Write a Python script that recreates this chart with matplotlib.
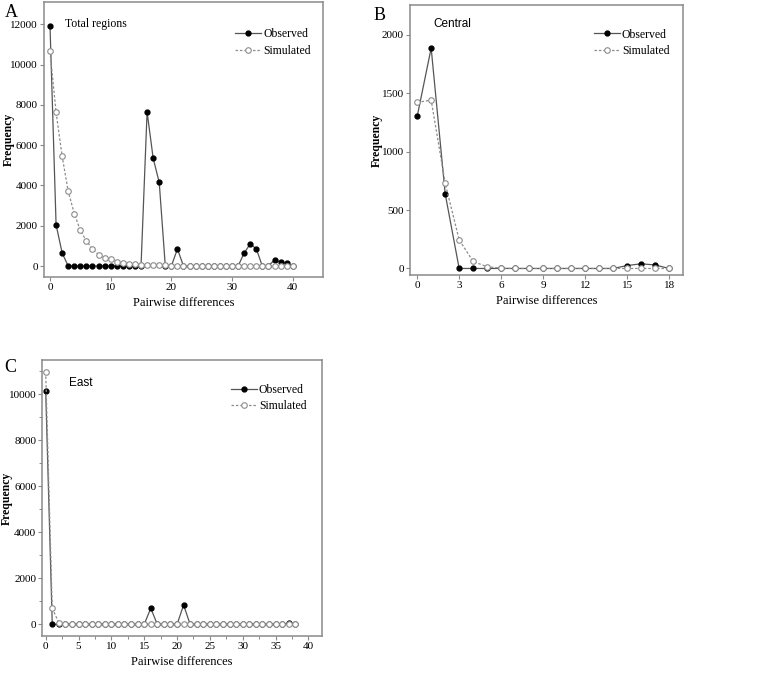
import matplotlib
matplotlib.use("Agg")
import matplotlib.pyplot as plt
from matplotlib.ticker import AutoMinorLocator

# Panel A - total regions
a_x = list(range(41))
a_obs = [11900, 2050, 650, 0, 0, 0, 0, 0, 0, 0, 0, 0, 0, 0, 0, 0,
         7650, 5350, 4150, 0, 0, 850, 0, 0, 0, 0, 0, 0, 0, 0, 0, 0,
         650, 1100, 850, 0, 0, 310, 210, 160, 0]
a_sim = [10650, 7620, 5450, 3700, 2600, 1770, 1240, 860, 570, 400, 340, 220,
         165, 120, 100, 70, 60, 50, 40, 30, 20, 15, 10, 8, 6, 5, 4, 3, 3, 2, 2, 2,
         1, 1, 1, 1, 1, 0, 0, 0, 0]

# Panel B - central
b_x = list(range(19))
b_obs = [1300, 1885, 640, 0, 0, 0, 0, 0, 0, 0, 0, 0, 0, 0, 0, 25, 40, 30, 0]
b_sim = [1420, 1440, 730, 245, 60, 14, 3, 0, 0, 0, 0, 0, 0, 0, 0, 0, 0, 0, 0]

# Panel C - east
c_x = list(range(39))
c_obs = [10150, 0, 0, 0, 0, 0, 0, 0, 0, 0, 0, 0, 0, 0, 0, 0, 700, 0, 0, 0,
         0, 840, 0, 0, 0, 0, 0, 0, 0, 0, 0, 0, 0, 0, 0, 0, 0, 40, 0]
c_sim = [10960, 700, 70] + [0] * 36

SERIF = "Liberation Serif"
SANS = "Liberation Sans"
GRAY = "#8a8a8a"

fig = plt.figure(figsize=(7.71, 6.76), dpi=100)


def panel(rect, x, obs, sim, title, xlim, ylim, xticks, yticks, leg_anchor,
          title_pos, title_font, ylab_x, minor=False):
    ax = fig.add_axes(rect)
    ax.plot(x, obs, color="#555555", lw=0.9, marker="o", ms=3.5,
            mfc="black", mec="black", label="Observed", zorder=2)
    ax.plot(x, sim, color="#8c8c8c", lw=0.9, ls=(0, (2, 1.5)), marker="o", ms=4,
            mfc="white", mec="#8c8c8c", mew=0.8, label="Simulated", zorder=3)
    ax.set_xlim(*xlim)
    ax.set_ylim(*ylim)
    ax.set_xticks(xticks)
    ax.set_yticks(yticks)
    if minor:
        ax.xaxis.set_minor_locator(AutoMinorLocator(2))
        ax.yaxis.set_minor_locator(AutoMinorLocator(2))
    for s in ax.spines.values():
        s.set_color(GRAY)
        s.set_linewidth(1.1)
    ax.tick_params(direction="out", length=3, width=0.8, color=GRAY,
                   labelsize=8, pad=1.5)
    ax.tick_params(which="minor", direction="out", length=2, width=0.7, color=GRAY)
    for lab in ax.get_xticklabels() + ax.get_yticklabels():
        lab.set_family(SERIF)
    ax.set_xlabel("Pairwise differences", family=SERIF, fontsize=9, labelpad=3)
    ax.set_ylabel("Frequency", family=SERIF, fontsize=8.5, fontweight="bold")
    ax.yaxis.set_label_coords(ylab_x, 0.5)
    ax.text(title_pos[0], title_pos[1], title, transform=ax.transAxes,
            family=title_font, fontsize=8.5, va="center", ha="left")
    ax.legend(loc="upper right", bbox_to_anchor=leg_anchor, frameon=False,
              handlelength=2.2, handletextpad=0.15, labelspacing=0.4,
              borderpad=0.2, prop={"family": SERIF, "size": 8.5})
    return ax


panel([0.057, 0.590, 0.362, 0.407], a_x, a_obs, a_sim, "Total regions",
      (-1, 45), (-550, 13100), [0, 10, 20, 30, 40], range(0, 12001, 2000),
      (0.985, 0.935), (0.075, 0.92), SERIF, -0.104)

panel([0.532, 0.593, 0.354, 0.399], b_x, b_obs, b_sim, "Central",
      (-0.5, 19), (-57, 2250), range(0, 19, 3), range(0, 2001, 500),
      (0.98, 0.945), (0.084, 0.93), SANS, -0.099)

panel([0.055, 0.059, 0.362, 0.408], c_x, c_obs, c_sim, "East",
      (-0.5, 42), (-510, 11470), range(0, 41, 5), range(0, 10001, 2000),
      (0.975, 0.945), (0.096, 0.918), SANS, -0.105, minor=True)

fig.text(0.006, 0.982, "A", family=SERIF, fontsize=13, va="center")
fig.text(0.484, 0.977, "B", family=SERIF, fontsize=13, va="center")
fig.text(0.005, 0.457, "C", family=SERIF, fontsize=13, va="center")

fig.savefig("out.png", dpi=100, facecolor="white")
